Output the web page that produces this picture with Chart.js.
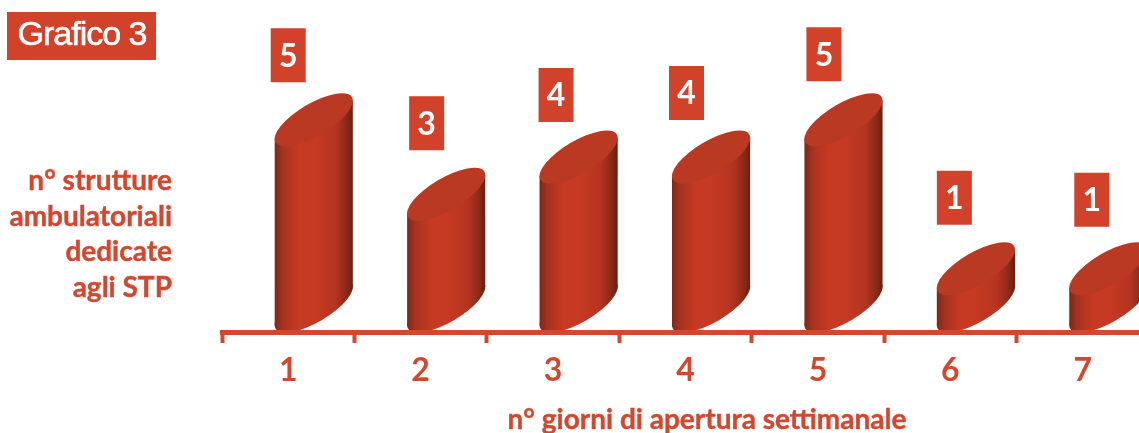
<html>
    <head>
        <script src='https://cdn.jsdelivr.net/npm/chart.js'></script>
    </head>
    <style>
        html, body { margin: 0; background: #fff; overflow: hidden; }
        #wrap { width: 1139px; height: 433px; overflow: hidden; }
    </style>
    <body>
        <div id='wrap'><canvas id='chart1' width='1200' height='433'></canvas></div>
        <script>
            // data
            var days = ['1', '2', '3', '4', '5', '6', '7'];
            var structures = [5, 3, 4, 4, 5, 1, 1];
            var badgeTitle = 'Grafico 3';
            var yTitleLines = ['n° strutture', 'ambulatoriali', 'dedicate', 'agli STP'];
            var xTitle = 'n° giorni di apertura settimanale';

            // hand placed labels in the original: nudge from slot centre / value pixel
            var labelDx = [0, 6, 3, 1, 6, 4, 9];
            var labelDy = [-90.5, -97, -88, -90, -91.5, -97, -95];

            var red = '#D24129';
            var textRed = '#D4472F';
            var font = 'Lato, Carlito, sans-serif';

            function drawBars(chart, meta) {
                var ctx = chart.ctx;
                var angle = 30.5 * Math.PI / 180;
                meta.data.forEach(function(bar) {
                    var w = bar.width;
                    var cx = bar.x + w * 0.327;
                    var a = w * 0.568, b = w * 0.208;
                    var hw = w / 2, dy = w * 0.244;
                    var lift = w * 0.333;
                    var topY = bar.y - lift;
                    var botY = bar.base - lift;
                    var g = ctx.createLinearGradient(cx - hw, 0, cx + hw, 0);
                    g.addColorStop(0, '#7E2716');
                    g.addColorStop(0.1, '#A53220');
                    g.addColorStop(0.3, '#C63A23');
                    g.addColorStop(0.52, '#C63A23');
                    g.addColorStop(0.78, '#B43420');
                    g.addColorStop(0.92, '#8A2A17');
                    g.addColorStop(1, '#642012');

                    ctx.save();
                    ctx.fillStyle = g;
                    ctx.beginPath();
                    ctx.moveTo(cx - hw, topY + dy);
                    ctx.lineTo(cx + hw, topY - dy);
                    ctx.lineTo(cx + hw, botY - dy);
                    ctx.lineTo(cx - hw, botY + dy);
                    ctx.closePath();
                    ctx.fill();
                    ctx.beginPath();
                    ctx.ellipse(cx, botY, a, b, -angle, 0, Math.PI * 2);
                    ctx.fill();
                    ctx.fillStyle = '#BA3922';
                    ctx.beginPath();
                    ctx.ellipse(cx, topY, a, b, -angle, 0, Math.PI * 2);
                    ctx.fill();
                    ctx.restore();
                });
            }

            var cylinders = {
                id: 'cylinders',
                beforeDatasetDraw: function(chart, args) {
                    drawBars(chart, args.meta);
                    return false;
                },
                afterDraw: function(chart) {
                    var ctx = chart.ctx;
                    ctx.save();
                    ctx.textBaseline = 'middle';

                    // value boxes
                    ctx.textAlign = 'center';
                    ctx.font = 'bold 32px ' + font;
                    chart.getDatasetMeta(0).data.forEach(function(bar, i) {
                        var x = bar.x + labelDx[i], y = bar.y + labelDy[i];
                        ctx.fillStyle = red;
                        ctx.fillRect(x - 17.5, y - 27, 35, 54);
                        ctx.fillStyle = '#fff';
                        ctx.fillText(structures[i], x, y + 1);
                    });

                    // titles
                    ctx.fillStyle = textRed;
                    ctx.strokeStyle = textRed;
                    ctx.lineWidth = 0.4;
                    ctx.font = 'bold 28px ' + font;
                    ctx.textAlign = 'right';
                    yTitleLines.forEach(function(line, i) {
                        ctx.fillText(line, 172, 181 + i * 35.7);
                        ctx.strokeText(line, 172, 181 + i * 35.7);
                    });
                    ctx.textAlign = 'center';
                    ctx.fillText(xTitle, 707, 420);
                    ctx.strokeText(xTitle, 707, 420);

                    // badge
                    ctx.fillStyle = red;
                    ctx.fillRect(7, 12, 149, 48);
                    ctx.fillStyle = '#fff';
                    ctx.strokeStyle = '#fff';
                    ctx.lineWidth = 0.6;
                    ctx.font = '34px "Liberation Sans", sans-serif';
                    ctx.letterSpacing = '-1px';
                    ctx.fillText(badgeTitle, 82, 36);
                    ctx.strokeText(badgeTitle, 82, 36);
                    ctx.restore();
                }
            };

            new Chart('chart1', {
                type: 'bar',
                data: {
                    labels: days,
                    datasets: [{
                        data: structures,
                        backgroundColor: red,
                        categoryPercentage: 1,
                        barPercentage: 0.59
                    }]
                },
                options: {
                    responsive: false,
                    animation: false,
                    layout: { padding: { left: 222, right: 51, top: 34, bottom: 0 } },
                    plugins: { legend: { display: false }, tooltip: { enabled: false } },
                    scales: {
                        x: {
                            afterFit: function(scale) { scale.height = 101; },
                            grid: {
                                offset: true,
                                drawOnChartArea: false,
                                color: textRed,
                                tickColor: textRed,
                                tickLength: 11,
                                tickWidth: 4,
                                z: 1
                            },
                            border: { color: textRed, width: 5, z: 1 },
                            ticks: {
                                color: textRed,
                                padding: 8,
                                maxRotation: 0,
                                font: { family: font, weight: 'bold', size: 32 }
                            }
                        },
                        y: { display: false, min: 0, max: 8 }
                    }
                },
                plugins: [cylinders]
            });
        </script>
    </body>
</html>
